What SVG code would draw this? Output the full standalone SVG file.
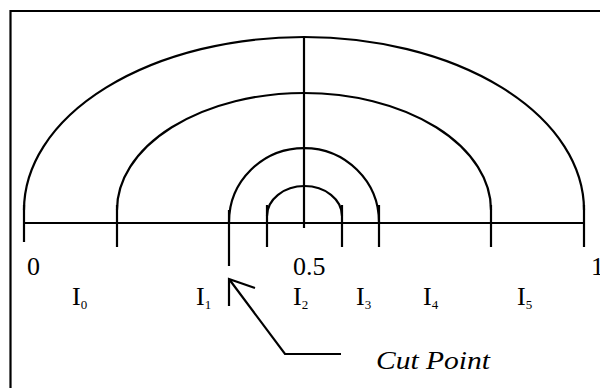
<svg xmlns="http://www.w3.org/2000/svg" width="600" height="388" viewBox="0 0 600 388">
<style>
.ln{fill:none;stroke:#000;stroke-width:2.2}
.t{font-family:"Liberation Serif","Times New Roman",serif;font-size:26px;fill:#000}
.s{font-size:13px}
.it{font-style:italic}
</style>
<rect width="600" height="388" fill="#fff"/>
<g id="frame"><path class="ln" d="M10.5,400 V11 H610"/></g>
<g id="axis">
<path class="ln" d="M24,223 H584"/>
<path class="ln" d="M304,37 V228"/>
<path class="ln" d="M24,205 V242 M117,205 V247 M229,210 V266 M267,205 V247 M342,205 V247 M379,205 V247 M491,205 V247 M584,205 V247"/>
</g>
<g id="arcs">
<path class="ln" d="M24,210 A280,173 0 0 1 584,210"/>
<path class="ln" d="M117,210 A187,117 0 0 1 491,210"/>
<path class="ln" d="M229,222 A75,74 0 0 1 379,222"/>
<path class="ln" d="M267,216 A37.5,30 0 0 1 342,216"/>
</g>
<g id="labels">
<text class="t" x="27" y="275">0</text>
<text class="t" x="293" y="275">0.5</text>
<text class="t" x="591" y="275">1</text>
<text class="t" x="72" y="305">I<tspan class="s" dy="4">0</tspan></text>
<text class="t" x="196" y="305">I<tspan class="s" dy="4">1</tspan></text>
<text class="t" x="293" y="305">I<tspan class="s" dy="4">2</tspan></text>
<text class="t" x="356" y="305">I<tspan class="s" dy="4">3</tspan></text>
<text class="t" x="423" y="305">I<tspan class="s" dy="4">4</tspan></text>
<text class="t" x="517" y="305">I<tspan class="s" dy="4">5</tspan></text>
</g>
<g id="connectors">
<path class="ln" d="M255,288 L229,279 V306 M229,279 L285,354 H341"/>
</g>
<g id="cut-label">
<text class="t it" x="376" y="369" textLength="114" lengthAdjust="spacingAndGlyphs">Cut Point</text>
</g>
</svg>
